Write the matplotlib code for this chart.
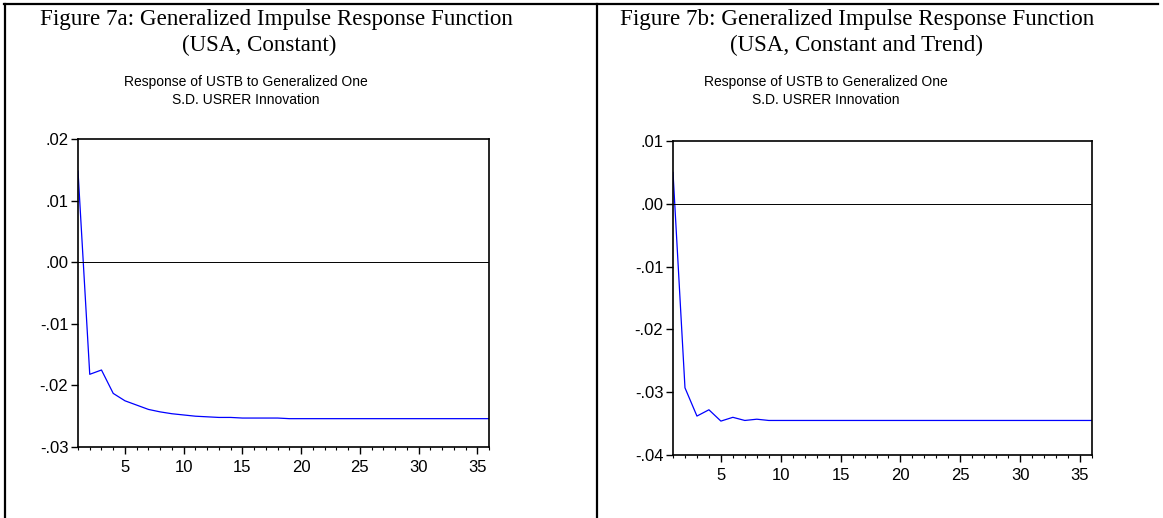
import matplotlib
matplotlib.use("Agg")
from matplotlib import pyplot as plt
from matplotlib.ticker import FuncFormatter, MultipleLocator
from matplotlib.lines import Line2D

W = 1163
H = 518

periods = list(range(1, 37))

# response of USTB, model with constant
resp_const = [0.0148, -0.0182, -0.0175, -0.0213, -0.0225, -0.0232, -0.0239, -0.0243,
              -0.0246, -0.0248, -0.0250, -0.0251, -0.0252, -0.0252, -0.0253, -0.0253,
              -0.0253, -0.0253, -0.0254, -0.0254, -0.0254, -0.0254, -0.0254, -0.0254,
              -0.0254, -0.0254, -0.0254, -0.0254, -0.0254, -0.0254, -0.0254, -0.0254,
              -0.0254, -0.0254, -0.0254, -0.0254]

# response of USTB, model with constant and trend
resp_trend = [0.0050, -0.0293, -0.0338, -0.0328, -0.0346, -0.0340, -0.0345, -0.0343,
              -0.0345, -0.0345, -0.0345, -0.0345, -0.0345, -0.0345, -0.0345, -0.0345,
              -0.0345, -0.0345, -0.0345, -0.0345, -0.0345, -0.0345, -0.0345, -0.0345,
              -0.0345, -0.0345, -0.0345, -0.0345, -0.0345, -0.0345, -0.0345, -0.0345,
              -0.0345, -0.0345, -0.0345, -0.0345]

titles = [["Figure 7a: Generalized Impulse Response Function", "(USA, Constant)"],
          ["Figure 7b: Generalized Impulse Response Function", "(USA, Constant and Trend)"]]
subtitle = "Response of USTB to Generalized One\nS.D. USRER Innovation"
ylims = [(-0.03, 0.02), (-0.04, 0.01)]

def fmt(v, pos):
    s = "%.2f" % v
    if s.startswith("-0"):
        s = "-" + s[2:]
    elif s.startswith("0"):
        s = s[1:]
    return s

def px(x, y):
    return x / W, 1 - y / H

fig = plt.figure(figsize=(W / 100, H / 100), dpi=100)

# axes boxes in pixels: left, top, right, bottom
boxes = [(78, 139, 489, 447), (673, 141, 1092, 455)]
title_x = [(276, 259), (857, 857)]
sub_x = [246, 826]
data = [resp_const, resp_trend]

for k in range(2):
    l, t, r, b = boxes[k]
    ax = fig.add_axes([l / W, 1 - b / H, (r - l) / W, (b - t) / H])
    ax.plot(periods, data[k], color="#0000ff", lw=0.9)
    ax.axhline(0, color="black", lw=0.7)
    ax.set_xlim(1, 36)
    ax.set_ylim(*ylims[k])
    ax.xaxis.set_major_locator(MultipleLocator(5))
    ax.xaxis.set_minor_locator(MultipleLocator(1))
    ax.yaxis.set_major_locator(MultipleLocator(0.01))
    ax.yaxis.set_major_formatter(FuncFormatter(fmt))
    ax.tick_params(axis="both", which="major", direction="out", length=5, width=1,
                   labelsize=12, pad=2)
    ax.tick_params(axis="x", which="major", pad=4)
    ax.tick_params(axis="x", which="minor", direction="out", length=2.5, width=0.8)
    for sp in ax.spines.values():
        sp.set_linewidth(1.2)
    for lab in ax.get_xticklabels() + ax.get_yticklabels():
        lab.set_family("Liberation Sans")

    x1, x2 = title_x[k]
    fig.text(*px(x1, 20), titles[k][0], ha="center", va="center",
             family="Liberation Serif", fontsize=16.6)
    fig.text(*px(x2, 45), titles[k][1], ha="center", va="center",
             family="Liberation Serif", fontsize=16.6)
    fig.text(*px(sub_x[k], 91), subtitle, ha="center", va="center",
             family="Liberation Sans", fontsize=10, linespacing=1.3)

# table borders
lw = 1.6
fig.add_artist(Line2D([4 / W, 1158 / W], [1 - 4 / H, 1 - 4 / H], color="black", lw=lw))
fig.add_artist(Line2D([5 / W, 5 / W], [1 - 4 / H, 0], color="black", lw=lw))
fig.add_artist(Line2D([597 / W, 597 / W], [1 - 4 / H, 0], color="black", lw=lw))

plt.savefig("out.png", dpi=100)
